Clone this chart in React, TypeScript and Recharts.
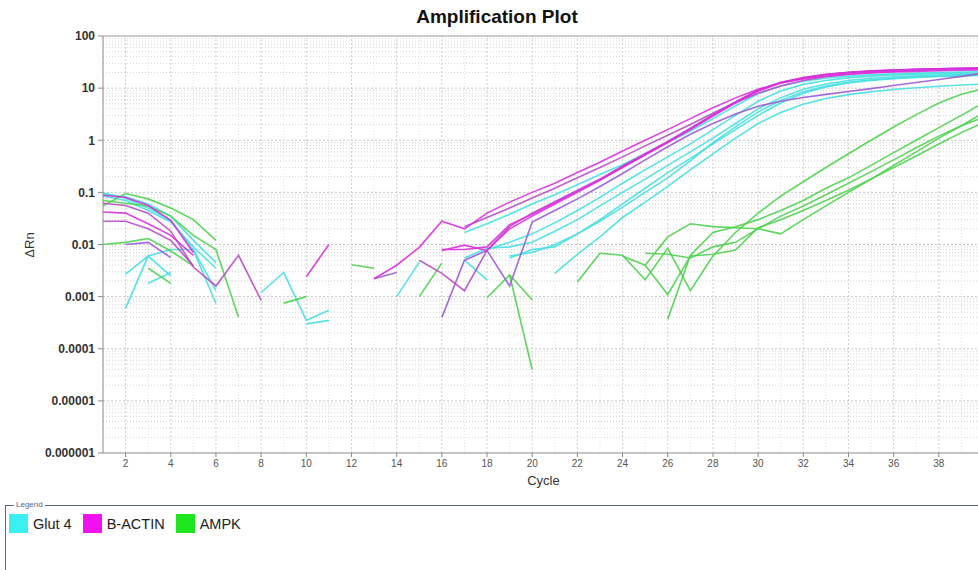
import React from "react";
import { LineChart, Line, XAxis, YAxis, ReferenceLine } from "recharts";

const _ = null;

const CYCLES = [
  1, 2, 3, 4, 5, 6, 7, 8, 9, 10, 11, 12, 13, 14, 15, 16, 17, 18, 19, 20,
  21, 22, 23, 24, 25, 26, 27, 28, 29, 30, 31, 32, 33, 34, 35, 36, 37, 38, 39, 40,
];

const X_TICKS = [2, 4, 6, 8, 10, 12, 14, 16, 18, 20, 22, 24, 26, 28, 30, 32, 34, 36, 38, 40];
const Y_TICKS = [0.000001, 0.00001, 0.0001, 0.001, 0.01, 0.1, 1, 10, 100];
const Y_TICK_LABELS = ["0.000001", "0.00001", "0.0001", "0.001", "0.01", "0.1", "1", "10", "100"];

// Glut 4 wells (cyan)
const glut4A = [
  0.098, 0.077, 0.05, 0.029, 0.0078, 0.00074, _, 0.0012, 0.0029, 0.00035,
  0.00055, _, _, _, _, _, 0.017, 0.025, 0.038, 0.06,
  0.09, 0.14, 0.22, 0.34, 0.55, 0.9, 1.5, 2.6, 4.6, 7.8,
  11, 13.5, 15.5, 17, 18, 18.8, 19.4, 19.9, 20.3, 20.7,
];
const glut4B = [
  0.085, 0.07, 0.045, 0.027, 0.009, 0.0035, _, _, _, 0.0003,
  0.00035, _, _, 0.001, 0.0046, _, 0.0055, 0.0085, 0.009, 0.011,
  0.018, 0.03, 0.055, 0.1, 0.18, 0.33, 0.6, 1.1, 2.1, 4,
  6.5, 9.5, 12, 14, 15.5, 16.5, 17.2, 17.8, 18.3, 18.7,
];
const glut4C = [
  _, 0.0027, 0.006, 0.008, 0.008, 0.0013, _, _, _, _,
  _, _, _, _, _, _, _, _, 0.006, 0.007,
  0.01, 0.016, 0.028, 0.052, 0.1, 0.19, 0.4, 0.9, 1.8, 3.5,
  5.8, 8.5, 11, 13, 14.5, 15.5, 16.3, 17, 17.5, 18,
];
const glut4D = [
  _, 0.0006, 0.006, 0.0025, _, _, _, _, _, _,
  _, _, _, _, _, _, _, _, 0.0055, 0.008,
  0.009, 0.016, 0.03, 0.06, 0.12, 0.24, 0.45, 0.85, 1.6, 3,
  5.2, 8, 10.5, 12.5, 14, 15.2, 16, 16.7, 17.2, 17.6,
];
const glut4E = [
  _, _, 0.0018, 0.0029, _, _, _, _, _, _,
  _, _, _, _, _, _, 0.005, 0.0021, _, _,
  0.0028, 0.0065, 0.014, 0.033, 0.065, 0.13, 0.27, 0.55, 1.1, 2.1,
  3.4, 4.9, 6.3, 7.5, 8.5, 9.4, 10.2, 10.9, 11.5, 12,
];
const glut4F = [
  0.092, 0.082, 0.06, 0.035, 0.012, 0.0045, _, _, _, _,
  _, _, _, _, _, _, _, 0.008, 0.011, 0.016,
  0.026, 0.045, 0.08, 0.15, 0.27, 0.48, 0.85, 1.6, 3, 5.6,
  8.8, 11.8, 14, 15.7, 17, 17.8, 18.4, 18.9, 19.3, 19.6,
];

// B-ACTIN wells (magenta)
const actinA = [
  0.088, 0.08, 0.056, 0.029, 0.007, _, _, _, _, _,
  _, _, 0.0022, 0.004, 0.0088, 0.028, 0.02, 0.04, 0.065, 0.1,
  0.15, 0.24, 0.38, 0.62, 1.0, 1.6, 2.6, 4.2, 6.5, 9.5,
  12.5, 15, 17, 18.5, 19.5, 20.5, 21, 21.5, 22, 22.5,
];
const actinB = [
  0.062, 0.056, 0.04, 0.018, 0.0037, 0.0016, 0.0062, 0.00085, _, _,
  _, _, _, _, _, _, 0.022, 0.033, 0.05, 0.078,
  0.12, 0.19, 0.3, 0.48, 0.78, 1.25, 2.0, 3.3, 5.3, 8,
  11, 14, 16.5, 18.5, 20, 21, 21.8, 22.5, 23, 23.5,
];
const actinC = [
  0.042, 0.04, 0.025, 0.015, 0.0062, _, _, _, _, 0.0024,
  0.01, _, _, _, _, 0.0077, 0.0097, 0.0077, 0.02, 0.035,
  0.06, 0.1, 0.17, 0.3, 0.52, 0.9, 1.6, 2.9, 5.2, 8.8,
  12.5, 15.5, 18, 19.8, 21, 22, 22.8, 23.4, 23.8, 24.2,
];
const actinD = [
  0.028, 0.028, 0.02, 0.012, 0.0039, _, _, _, _, _,
  _, _, _, _, 0.005, 0.0028, 0.0013, 0.0077, 0.022, 0.04,
  0.066, 0.11, 0.18, 0.32, 0.55, 0.95, 1.7, 3.1, 5.5, 9.2,
  13, 16, 18.5, 20.2, 21.4, 22.3, 23, 23.6, 24, 24.4,
];
const actinE = [
  _, 0.01, 0.011, 0.0056, _, _, _, _, _, _,
  _, _, 0.0022, 0.0029, _, 0.0004, 0.005, 0.0077, 0.0016, 0.027,
  0.045, 0.075, 0.13, 0.23, 0.42, 0.75, 1.3, 2.1, 3.2, 4.5,
  5.6, 6.6, 7.6, 8.6, 9.8, 11.2, 12.8, 14.6, 16.8, 19.5,
];
const actinF = [
  _, _, _, _, _, _, _, _, _, _,
  _, _, _, _, _, 0.008, 0.008, 0.009, 0.024, 0.038,
  0.064, 0.105, 0.175, 0.31, 0.54, 0.93, 1.65, 3.0, 5.3, 9,
  12.7, 15.8, 18.2, 20, 21.2, 22.1, 22.9, 23.5, 23.9, 24.3,
];

// AMPK wells (green)
const ampkA = [
  0.055, 0.095, 0.075, 0.05, 0.03, 0.012, _, _, _, _,
  _, 0.0041, 0.0035, _, _, _, _, _, _, _,
  _, 0.0019, 0.0068, 0.0062, 0.0021, 0.0085, 0.0013, 0.006, 0.017, 0.04,
  0.085, 0.16, 0.3, 0.55, 1.0, 1.8, 3.1, 5.2, 7.6, 9.8,
];
const ampkB = [
  0.07, 0.062, 0.055, 0.035, 0.015, 0.008, 0.0004, _, 0.00075, 0.001,
  _, _, _, _, 0.001, 0.0044, _, _, _, _,
  _, _, _, _, 0.004, 0.014, 0.025, 0.022, 0.021, 0.02,
  0.016, 0.03, 0.055, 0.1, 0.18, 0.33, 0.6, 1.1, 1.9, 3.4,
];
const ampkC = [
  0.01, 0.011, 0.013, 0.0075, 0.0039, _, _, _, _, _,
  _, _, _, _, _, _, _, 0.00095, 0.0026, 0.00087,
  _, _, _, _, _, 0.00037, 0.0062, 0.017, 0.022, 0.03,
  0.045, 0.07, 0.12, 0.19, 0.33, 0.58, 1.0, 1.75, 3, 5.3,
];
const ampkD = [
  _, _, 0.0035, 0.0018, _, _, _, _, _, _,
  _, _, _, _, _, _, _, _, 0.0026, 0.00004,
  _, _, _, _, 0.0068, 0.0065, 0.0055, 0.009, 0.011, 0.02,
  0.035, 0.055, 0.09, 0.15, 0.25, 0.42, 0.72, 1.2, 1.9, 2.8,
];
const ampkE = [
  _, _, _, _, _, _, _, _, _, _,
  _, _, _, _, _, _, _, _, _, _,
  _, _, _, 0.006, 0.004, 0.0011, 0.006, 0.0065, 0.0078, 0.021,
  0.03, 0.045, 0.07, 0.11, 0.18, 0.3, 0.5, 0.85, 1.4, 2.2,
];

const CYAN = "#45dfe0";
const MAGENTA = "#dc2fdc";
const PURPLE = "#b64cc8";
const BLUE_PURPLE = "#9a5ad6";
const GREEN = "#4fd24f";

const SERIES = [
  { key: "glut4A", values: glut4A, color: CYAN },
  { key: "glut4B", values: glut4B, color: CYAN },
  { key: "glut4C", values: glut4C, color: CYAN },
  { key: "glut4D", values: glut4D, color: CYAN },
  { key: "glut4E", values: glut4E, color: CYAN },
  { key: "glut4F", values: glut4F, color: CYAN },
  { key: "ampkA", values: ampkA, color: GREEN },
  { key: "ampkB", values: ampkB, color: GREEN },
  { key: "ampkC", values: ampkC, color: GREEN },
  { key: "ampkD", values: ampkD, color: GREEN },
  { key: "ampkE", values: ampkE, color: GREEN },
  { key: "actinE", values: actinE, color: BLUE_PURPLE },
  { key: "actinB", values: actinB, color: PURPLE },
  { key: "actinD", values: actinD, color: PURPLE },
  { key: "actinA", values: actinA, color: MAGENTA },
  { key: "actinC", values: actinC, color: MAGENTA },
  { key: "actinF", values: actinF, color: MAGENTA },
];

const LEGEND = [
  { name: "Glut 4", color: "#3af0f0" },
  { name: "B-ACTIN", color: "#f010f0" },
  { name: "AMPK", color: "#1ee61e" },
];

const data = CYCLES.map((cycle, i) => {
  const row: Record<string, number | null> = { cycle };
  SERIES.forEach((s) => {
    row[s.key] = s.values[i];
  });
  return row;
});

// minor log grid (2..9 of each decade) and odd-cycle verticals
const minorY: number[] = [];
for (let d = -6; d < 2; d++) {
  for (let m = 2; m <= 9; m++) minorY.push(m * Math.pow(10, d));
}
const oddCycles = CYCLES.filter((c) => c % 2 === 1 && c > 1);

const FONT = '"Liberation Sans", Arial, Helvetica, sans-serif';

export default function App() {
  return (
    <div
      style={{
        position: "fixed",
        left: 0,
        top: 0,
        width: 978,
        height: 570,
        overflow: "hidden",
        background: "#fff",
        fontFamily: FONT,
      }}
    >
      <div
        style={{
          position: "absolute",
          left: 0,
          top: 6,
          width: 994,
          textAlign: "center",
          fontSize: 19,
          fontWeight: "bold",
          color: "#111",
        }}
      >
        Amplification Plot
      </div>

      <div style={{ position: "absolute", left: 0, top: 0 }}>
        <LineChart
          width={1000}
          height={500}
          data={data}
          margin={{ top: 36, right: 16, left: 43, bottom: 17 }}
        >
          {minorY.map((v) => (
            <ReferenceLine key={"my" + v} y={v} stroke="#d4d4d4" strokeDasharray="1 2" />
          ))}
          {Y_TICKS.slice(1, -1).map((v) => (
            <ReferenceLine key={"My" + v} y={v} stroke="#c6c6c6" strokeDasharray="2 2" />
          ))}
          {oddCycles.map((c) => (
            <ReferenceLine key={"mx" + c} x={c} stroke="#e2e2e2" strokeDasharray="1 2" />
          ))}
          {X_TICKS.map((c) => (
            <ReferenceLine key={"Mx" + c} x={c} stroke="#cfcfcf" strokeDasharray="2 2" />
          ))}
          <ReferenceLine y={100} stroke="#9a9a9a" />
          <XAxis
            dataKey="cycle"
            type="number"
            domain={[1, 40]}
            ticks={X_TICKS}
            allowDataOverflow
            height={30}
            tickSize={4}
            tickMargin={3}
            stroke="#8a8a8a"
            tick={{ fontSize: 10, fill: "#555" }}
          />
          <YAxis
            type="number"
            scale="log"
            domain={[0.000001, 100]}
            ticks={Y_TICKS}
            allowDataOverflow
            width={60}
            tickSize={5}
            tickMargin={3}
            stroke="#8a8a8a"
            tick={{ fontSize: 12, fill: "#333", fontWeight: "bold" }}
            tickFormatter={(v: number) => Y_TICK_LABELS[Y_TICKS.indexOf(v)] ?? String(v)}
          />
          {SERIES.map((s) => (
            <Line
              key={s.key}
              type="linear"
              dataKey={s.key}
              stroke={s.color}
              strokeWidth={1.6}
              strokeOpacity={0.9}
              dot={false}
              activeDot={false}
              connectNulls={false}
              isAnimationActive={false}
            />
          ))}
        </LineChart>
      </div>

      <div
        style={{
          position: "absolute",
          left: 0,
          top: 474,
          width: 1087,
          textAlign: "center",
          fontSize: 13,
          lineHeight: "14px",
          color: "#333",
        }}
      >
        Cycle
      </div>

      <div
        style={{
          position: "absolute",
          left: 30,
          top: 245,
          transform: "translate(-50%, -50%) rotate(-90deg)",
          fontSize: 13,
          lineHeight: "14px",
          color: "#333",
          whiteSpace: "nowrap",
        }}
      >
        ΔRn
      </div>

      <div
        style={{
          position: "absolute",
          left: 5,
          top: 505,
          width: 990,
          height: 80,
          borderTop: "1.5px solid #55677d",
          borderLeft: "1.5px solid #55677d",
        }}
      >
        <span
          style={{
            position: "absolute",
            left: 8,
            top: -6,
            padding: "0 2px",
            background: "#fff",
            fontSize: 8,
            lineHeight: "10px",
            color: "#4d6a8e",
          }}
        >
          Legend
        </span>
        <div style={{ position: "absolute", left: 3, top: 8, display: "flex", alignItems: "center" }}>
          {LEGEND.map((l) => (
            <div key={l.name} style={{ display: "flex", alignItems: "center", marginRight: 11 }}>
              <span style={{ width: 19, height: 19, background: l.color, display: "inline-block" }} />
              <span style={{ marginLeft: 5, fontSize: 14.5, color: "#222" }}>{l.name}</span>
            </div>
          ))}
        </div>
      </div>
    </div>
  );
}
